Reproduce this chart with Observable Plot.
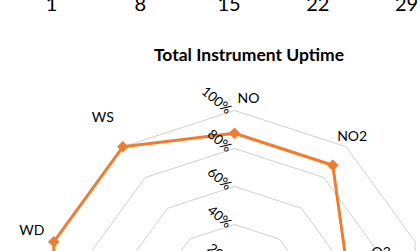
<!DOCTYPE html>
<html><head><meta charset="utf-8">
<script src="https://cdn.jsdelivr.net/npm/d3@7"></script>
<script src="https://cdn.jsdelivr.net/npm/@observablehq/plot@0.6"></script>
<style>
body{margin:0;background:#fff;}
#wrap{position:relative;width:420px;height:251px;overflow:hidden;background:#fff;font-family:Lato,sans-serif;}
#radar{position:absolute;left:0;top:0;}
#days{position:absolute;left:0;top:-7px;}
#title{position:absolute;left:0;width:498px;top:47px;line-height:15px;text-align:center;font-weight:bold;font-size:17.5px;color:#000;}
svg{background:transparent !important;}
</style></head>
<body>
<div id="wrap"><div id="radar"></div><div id="days"></div><div id="title">Total Instrument Uptime</div></div>
<script>
// Data
const categories = ["NO","NO2","O3","PM10","PM2.5","RH","SO2","Temp","WD","WS"];
const uptime = [0.88, 0.88, 0.62, 0.95, 0.92, 1.00, 0.90, 1.00, 1.00, 1.00];
const gridLevels = [0.2, 0.4, 0.6, 0.8, 1.0];
const dayTicks = [1, 8, 15, 22, 29];

const n = categories.length;
const ang = i => i * 2 * Math.PI / n;
const px = (i, v) => v * Math.sin(ang(i));
const py = (i, v) => v * Math.cos(ang(i));

const ringData = gridLevels.flatMap(l => d3.range(n + 1).map(i => ({level: l, x: px(i % n, l), y: py(i % n, l)})));
const series = d3.range(n + 1).map(i => ({cat: categories[i % n], x: px(i % n, uptime[i % n]), y: py(i % n, uptime[i % n])}));
const pts = series.slice(0, n);

// label nudges (pixels) relative to outer vertex
const nudge = {NO: [14, -12], NO2: [6, -10], O3: [-34, 11], WD: [-22, -11], WS: [-20, -29]};
const labelMarks = categories.map((c, i) => {
  const d = nudge[c] || [Math.sin(ang(i)) * 22, -Math.cos(ang(i)) * 14];
  return Plot.text([c], {x: () => px(i, 1), y: () => py(i, 1), text: d => d, dx: d[0], dy: d[1], fontSize: 14, fill: "#000", textAnchor: "middle", lineAnchor: "middle"});
});

const R = 190, cx = 234, cy = 300, W = 420, H = 500;
const radar = Plot.plot({
  width: W, height: H, margin: 0,
  style: {fontFamily: "Lato, sans-serif", background: "transparent", overflow: "visible"},
  x: {domain: [-cx / R, (W - cx) / R], axis: null},
  y: {domain: [(cy - H) / R, cy / R], axis: null},
  marks: [
    Plot.line(ringData, {x: "x", y: "y", z: "level", stroke: "#d0d0d0", strokeWidth: 1}),
    Plot.line(series, {x: "x", y: "y", stroke: "#ED7D31", strokeWidth: 3}),
    Plot.dot(pts, {x: "x", y: "y", symbol: "diamond2", r: 5.2, fill: "#ED7D31", stroke: "none"}),
    Plot.text(gridLevels, {x: () => 0, y: d => d, text: d => `${Math.round(d * 100)}%`, rotate: 40, textAnchor: "end", dx: -5, dy: 1, fontSize: 13.5, fill: "#000"}),
    ...labelMarks
  ]
});
document.getElementById("radar").appendChild(radar);

const days = Plot.plot({
  width: 420, height: 30, marginTop: 0, marginBottom: 30, marginLeft: 51, marginRight: 14,
  style: {fontFamily: "Lato, sans-serif", background: "transparent"},
  x: {domain: [1, 29]},
  marks: [Plot.axisX({ticks: dayTicks, tickSize: 0, tickPadding: 3, fontSize: 20, tickFormat: d => d, anchor: "bottom", label: null})]
});
document.getElementById("days").appendChild(days);
</script>
</body></html>
